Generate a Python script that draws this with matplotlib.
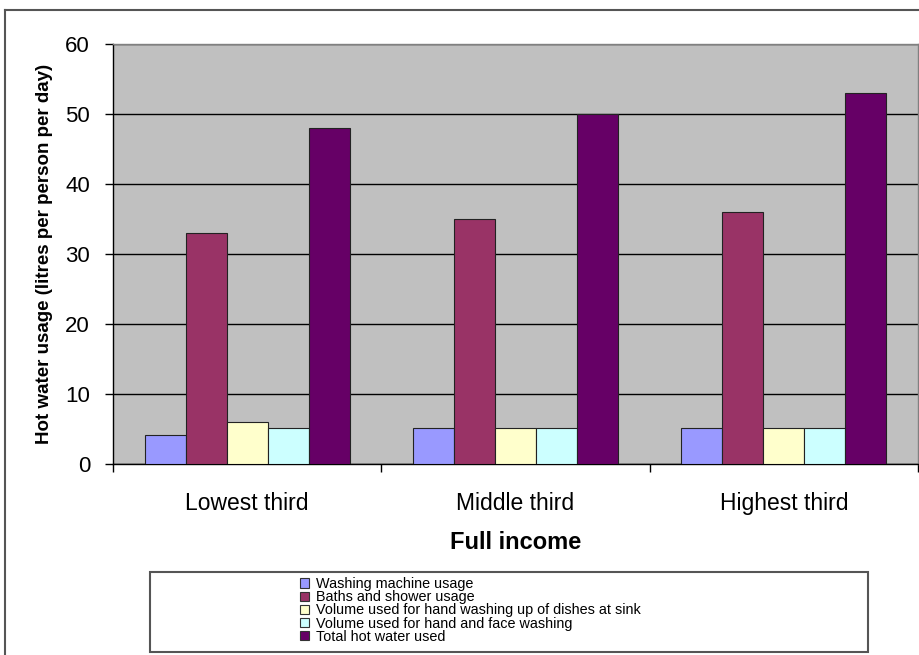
import matplotlib
matplotlib.use("Agg")
import matplotlib.pyplot as plt
from matplotlib.patches import Patch, Rectangle
from matplotlib.lines import Line2D
import numpy as np

plt.rcParams['font.family'] = ['Liberation Sans', 'DejaVu Sans']

categories = ["Lowest third", "Middle third", "Highest third"]
series_names = [
    "Washing machine usage",
    "Baths and shower usage",
    "Volume used for hand washing up of dishes at sink",
    "Volume used for hand and face washing",
    "Total hot water used",
]
washing_machine = [4.2, 5.1, 5.1]
baths_shower = [33, 35, 36]
dishes_sink = [6, 5.1, 5.1]
hand_face = [5.1, 5.1, 5.1]
total_hot_water = [48, 50, 53]
series_values = [washing_machine, baths_shower, dishes_sink, hand_face, total_hot_water]
colors = ["#9999FF", "#993366", "#FFFFCC", "#CCFFFF", "#660066"]
y_ticks = [0, 10, 20, 30, 40, 50, 60]

fig = plt.figure(figsize=(9.2, 6.55), dpi=100)
ax = fig.add_axes([113/920, 1 - 464/655, 805/920, 420/655])
ax.set_facecolor("#C0C0C0")

x = np.arange(len(categories))
bar_w = 0.153
n = len(series_values)
for i, (vals, col) in enumerate(zip(series_values, colors)):
    offs = (i - (n - 1) / 2) * bar_w
    ax.bar(x + offs, vals, width=bar_w, color=col, edgecolor="#222222",
           linewidth=0.8, zorder=3)

ax.set_xlim(-0.5, len(categories) - 0.5)
ax.set_ylim(0, 60)
ax.set_yticks(y_ticks)
ax.yaxis.grid(True, color="black", linewidth=1.0, zorder=1)
ax.set_axisbelow(True)

ax.set_xticks(x)
ax.set_xticklabels(categories, fontsize=16.5)
ax.set_xticks(np.arange(-0.5, len(categories)), minor=True)
ax.tick_params(axis="x", which="major", length=0, pad=20)
ax.tick_params(axis="x", which="minor", length=6, width=1.0, direction="out")
ax.tick_params(axis="y", length=6, width=1.0, direction="out", pad=10.5, labelsize=16)

for s in ["left", "bottom"]:
    ax.spines[s].set_color("black")
    ax.spines[s].set_linewidth(1.0)
for s in ["top", "right"]:
    ax.spines[s].set_color("#808080")
    ax.spines[s].set_linewidth(1.0)

ax.set_ylabel("Hot water usage (litres per person per day)", fontsize=13.5,
              fontweight="bold", labelpad=9)
ax.set_xlabel("Full income", fontsize=17, fontweight="bold", labelpad=12)

# outer frame of the chart object
fig.add_artist(Line2D([5/920, 1.0], [1 - 10/655, 1 - 10/655],
                      transform=fig.transFigure, color="#555555", linewidth=1.5))
fig.add_artist(Line2D([5/920, 5/920], [0, 1 - 10/655],
                      transform=fig.transFigure, color="#555555", linewidth=1.5))

# legend box
fig.add_artist(Rectangle((150/920, 1 - 652/655), 718/920, 80/655,
                         transform=fig.transFigure, facecolor="white",
                         edgecolor="#555555", linewidth=1.5))
handles = [Patch(facecolor=c, edgecolor="#333333", linewidth=0.8) for c in colors]
fig.legend(handles, series_names, loc="upper left",
           bbox_to_anchor=(290/920, 1 - 567/655), frameon=False,
           fontsize=10.4, labelspacing=-0.06, handlelength=0.6, handleheight=0.6,
           handletextpad=0.5, borderpad=0.2)

fig.savefig("out.png", dpi=100)
